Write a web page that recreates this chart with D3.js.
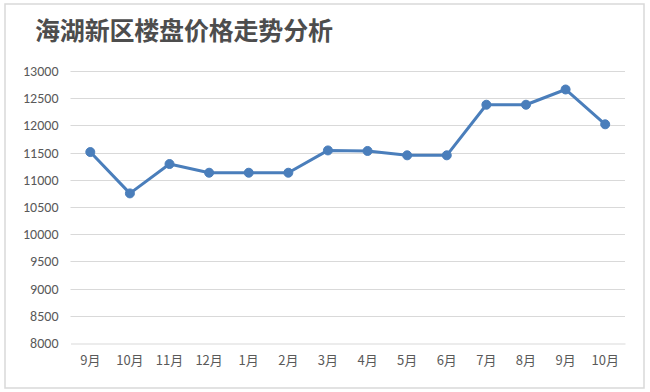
<!DOCTYPE html>
<html><head><meta charset="utf-8">
<script src="https://cdn.jsdelivr.net/npm/d3@7/dist/d3.min.js"></script>
<style>
html,body{margin:0;padding:0;background:#fff;}
svg{display:block;}
</style></head>
<body>
<svg id="chart" width="650" height="392"></svg>
<script>
const title = "海湖新区楼盘价格走势分析";
const categories = ["9月","10月","11月","12月","1月","2月","3月","4月","5月","6月","7月","8月","9月","10月"];
const prices = [11510, 10750, 11290, 11130, 11130, 11130, 11540, 11530, 11450, 11450, 12380, 12380, 12660, 12020];
const yTicks = [8000, 8500, 9000, 9500, 10000, 10500, 11000, 11500, 12000, 12500, 13000];

const svg = d3.select("#chart");
const W = 650, H = 392;
const m = {left: 70.5, right: 25, top: 71, bottom: 49};

svg.append("rect").attr("x", 5).attr("y", 4).attr("width", 639).attr("height", 384)
  .attr("fill", "#fff").attr("stroke", "#d9d9d9").attr("stroke-width", 1.5);

svg.append("text").attr("x", 35).attr("y", 40)
  .attr("font-family", "'Noto Sans CJK SC', sans-serif")
  .attr("font-size", 25).attr("font-weight", "bold").attr("fill", "#4d4d4d")
  .attr("textLength", 298).attr("lengthAdjust", "spacing")
  .text(title);

const x = d3.scaleBand().domain(d3.range(categories.length)).range([m.left, W - m.right]);
const y = d3.scaleLinear().domain([8000, 13000]).range([H - m.bottom, m.top]);

// gridlines
svg.append("g").selectAll("line").data(yTicks.slice(1)).join("line")
  .attr("x1", m.left).attr("x2", W - m.right)
  .attr("y1", d => Math.round(y(d)) + 0.5).attr("y2", d => Math.round(y(d)) + 0.5)
  .attr("stroke", "#d9d9d9").attr("stroke-width", 1);

// y axis labels
const yAxis = d3.axisLeft(y).tickValues(yTicks).tickFormat(d3.format("d")).tickSize(0).tickPadding(12);
const gy = svg.append("g").attr("transform", `translate(${m.left},0)`).call(yAxis);
gy.select(".domain").remove();
gy.selectAll("text").attr("font-family", "Calibri, Carlito, 'Liberation Sans', sans-serif")
  .attr("font-size", 14).attr("fill", "#595959");

// x axis
const xAxis = d3.axisBottom(x).tickFormat(i => categories[i]).tickSize(0).tickPadding(12);
const gx = svg.append("g").attr("transform", `translate(0,${Math.round(y(8000)) + 0.5})`).call(xAxis);
gx.select(".domain").attr("stroke", "#d9d9d9").attr("stroke-width", 1);
gx.selectAll("text").attr("font-family", "'Noto Sans CJK SC', sans-serif")
  .attr("font-size", 13).attr("fill", "#595959");

// line
const cx = i => x(i) + x.bandwidth() / 2;
const line = d3.line().x((d, i) => cx(i)).y(d => y(d));
svg.append("path").datum(prices).attr("d", line)
  .attr("fill", "none").attr("stroke", "#4a7ebb").attr("stroke-width", 3)
  .attr("stroke-linejoin", "round").attr("stroke-linecap", "round");

svg.append("g").selectAll("circle").data(prices).join("circle")
  .attr("cx", (d, i) => cx(i)).attr("cy", d => y(d)).attr("r", 4.5)
  .attr("fill", "#4a7ebb").attr("stroke", "#4a7ebb").attr("stroke-width", 1);
</script>
</body></html>
